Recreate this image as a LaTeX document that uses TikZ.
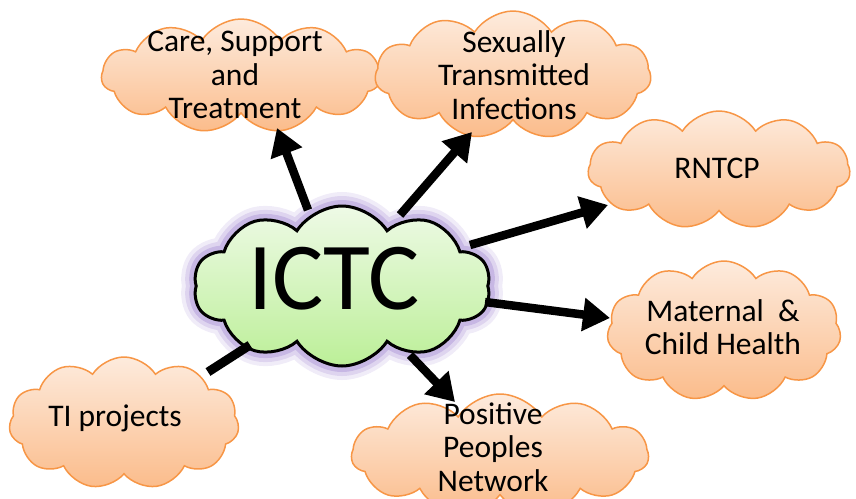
\documentclass[tikz,border=0pt]{standalone}
\usepackage{fontspec}
\setmainfont{Carlito}
\usetikzlibrary{shapes.symbols,arrows.meta,calc}
\definecolor{orbord}{HTML}{F79646}
\definecolor{ortop}{HTML}{FDEBDD}
\definecolor{orbot}{HTML}{FBBC8B}
\definecolor{grtop}{HTML}{EEFAE6}
\definecolor{grbot}{HTML}{BCEF98}
\definecolor{glow}{HTML}{9C80CF}
\begin{document}
\begin{tikzpicture}[x=1pt,y=-1pt,
  orcloud/.style={cloud, cloud puffs=11, cloud puff arc=115, cloud ignores aspect,
    draw=orbord, line width=1.5pt, top color=ortop, bottom color=orbot, inner sep=0pt},
  gcloud/.style={cloud, cloud puffs=10, cloud puff arc=115, cloud ignores aspect,
    draw=black, line width=3pt, top color=grtop, bottom color=grbot, inner sep=0pt,
    preaction={draw=glow, line width=28pt, opacity=0.15},
    preaction={draw=glow, line width=20pt, opacity=0.22},
    preaction={draw=glow, line width=12pt, opacity=0.35}},
  lbl/.style={align=center, inner sep=0pt, font=\fontsize{31.5}{33.5}\selectfont},
  conn/.style={line width=8.5pt, -{Triangle[length=27pt,width=32pt]}},
  plain/.style={line width=9pt},
]
\useasboundingbox (0,0) rectangle (856,498);

\node[orcloud, minimum width=279pt, minimum height=114pt] (care) at (241,76) {};
\node[lbl] (caret) at (235,75) {Care, Support\\and\\Treatment};

\node[orcloud, minimum width=276pt, minimum height=128pt] (sti) at (513,75) {};
\node[lbl] (stit) at (514,75) {Sexually\\Transmitted\\Infections};

\node[orcloud, minimum width=262pt, minimum height=118pt] (rntcp) at (719,170) {};
\node[lbl] (rntcpt) at (717,168) {RNTCP};

\node[orcloud, minimum width=234pt, minimum height=140pt] (mch) at (724,331) {};
\node[lbl] (mcht) at (723,327) {Maternal~~\&\\Child Health};

\node[orcloud, minimum width=230pt, minimum height=132pt] (ti) at (124,423) {};
\node[lbl] (tit) at (115,418) {TI projects};

\node[orcloud, minimum width=297pt, minimum height=122pt] (ppn) at (500,455) {};
\node[lbl] (ppnt) at (493,447) {Positive\\Peoples\\Network};

\node[gcloud, minimum width=297pt, minimum height=160pt] (ictc) at (342,286) {};
\node[inner sep=0pt, font=\fontsize{96}{100}\selectfont] (ictct) at (334,279) {ICTC};

\draw[conn] ($(ictc)+(-34,-76)$) -- ($(care)+(36,52)$);
\draw[conn] ($(ictc)+(58,-71)$) -- ($(sti)+(-41,57)$);
\draw[conn] ($(ictc)+(128,-41)$) -- ($(rntcp)+(-111,35)$);
\draw[conn] ($(ictc)+(143,16)$) -- ($(mch)+(-114,-13)$);
\draw[conn] ($(ictc)+(68,69)$) -- ($(ppn)+(-45,-53)$);
\draw[plain] ($(ictc)+(-92,59)$) -- ($(ti)+(84,-51)$);
\end{tikzpicture}
\end{document}
